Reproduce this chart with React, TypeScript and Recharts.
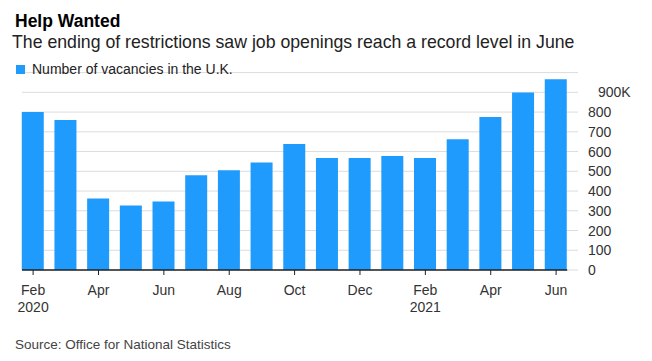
import { BarChart, Bar, XAxis, YAxis, CartesianGrid, ReferenceLine } from "recharts";

// monthly vacancies, thousands
const months = [
  "Feb 2020", "Mar 2020", "Apr 2020", "May 2020", "Jun 2020", "Jul 2020",
  "Aug 2020", "Sep 2020", "Oct 2020", "Nov 2020", "Dec 2020", "Jan 2021",
  "Feb 2021", "Mar 2021", "Apr 2021", "May 2021", "Jun 2021",
];
const vacancies = [800, 760, 362, 327, 347, 480, 505, 545, 638, 568, 568, 578, 568, 662, 775, 899, 966];
const xTicks = [0, 2, 4, 6, 8, 10, 12, 14, 16];
const yTicks = [0, 100, 200, 300, 400, 500, 600, 700, 800, 900];

const data = months.map((m, i) => ({ i, month: m, vacancies: vacancies[i] }));

const FONT = '"Liberation Sans", Arial, Helvetica, sans-serif';
const BLUE = "#1f9bfd";

const XTick = (props: any) => {
  const { x, y, payload } = props;
  const i = payload.value as number;
  const [mon, yr] = months[i].split(" ");
  const prev = i >= 2 ? months[i - 2].split(" ")[1] : "";
  const showYear = i === 0 || prev !== yr;
  return (
    <g>
      <text x={x} y={y + 20} textAnchor="middle" fontSize={14} fill="#333" fontFamily={FONT}>
        {mon}
      </text>
      {showYear && (
        <text x={x} y={y + 37} textAnchor="middle" fontSize={14} fill="#333" fontFamily={FONT}>
          {yr}
        </text>
      )}
    </g>
  );
};

const YTick = (props: any) => {
  const { x, y, payload } = props;
  const top = payload.value === yTicks[yTicks.length - 1];
  return (
    <text x={x + (top ? 10 : 0)} y={y + 5} textAnchor="start" fontSize={14} fill="#333" fontFamily={FONT}>
      {top ? `${payload.value}K` : payload.value}
    </text>
  );
};

export default function App() {
  return (
    <div style={{ position: "absolute", left: 0, top: 0, width: 652, height: 361, background: "#fff", fontFamily: FONT }}>
      <div style={{ position: "absolute", left: 0, top: 0 }}>
        <BarChart width={652} height={361} data={data} margin={{ top: 72.6, right: 0, bottom: 51, left: 22 }}>
          <CartesianGrid vertical={false} stroke="#dcdcdc" />
          <XAxis
            dataKey="i"
            type="number"
            domain={[-0.34, 16.67]}
            ticks={xTicks}
            height={40}
            axisLine={false}
            tickLine={{ stroke: "#222" }}
            tickSize={5}
            tickMargin={0}
            tick={<XTick />}
            interval={0}
          />
          <YAxis
            orientation="right"
            width={74}
            domain={[0, 1000]}
            ticks={yTicks}
            interval={0}
            axisLine={false}
            tickLine={false}
            tickSize={0}
            tickMargin={10}
            tick={<YTick />}
          />
          <Bar dataKey="vacancies" fill={BLUE} barSize={22} isAnimationActive={false} />
          <ReferenceLine
            segment={[{ x: -0.34, y: 0 }, { x: 16.34, y: 0 }]}
            stroke="#222"
            strokeWidth={1.5}
            ifOverflow="visible"
          />
        </BarChart>
      </div>
      <div style={{ position: "absolute", left: 15, top: 13, fontSize: 17.5, fontWeight: 700, color: "#000", lineHeight: "17px", whiteSpace: "nowrap" }}>
        Help Wanted
      </div>
      <div style={{ position: "absolute", left: 12, top: 33, fontSize: 17.7, color: "#222", lineHeight: "18px", whiteSpace: "nowrap" }}>
        The ending of restrictions saw job openings reach a record level in June
      </div>
      <div style={{ position: "absolute", left: 16, top: 62, height: 14, display: "flex", alignItems: "center", whiteSpace: "nowrap" }}>
        <span style={{ display: "inline-block", width: 9, height: 9, background: BLUE, marginRight: 7 }} />
        <span style={{ fontSize: 14, color: "#222", lineHeight: "14px" }}>Number of vacancies in the U.K.</span>
      </div>
      <div style={{ position: "absolute", left: 15, top: 338, fontSize: 13.5, color: "#444", lineHeight: "14px", whiteSpace: "nowrap" }}>
        Source: Office for National Statistics
      </div>
    </div>
  );
}
